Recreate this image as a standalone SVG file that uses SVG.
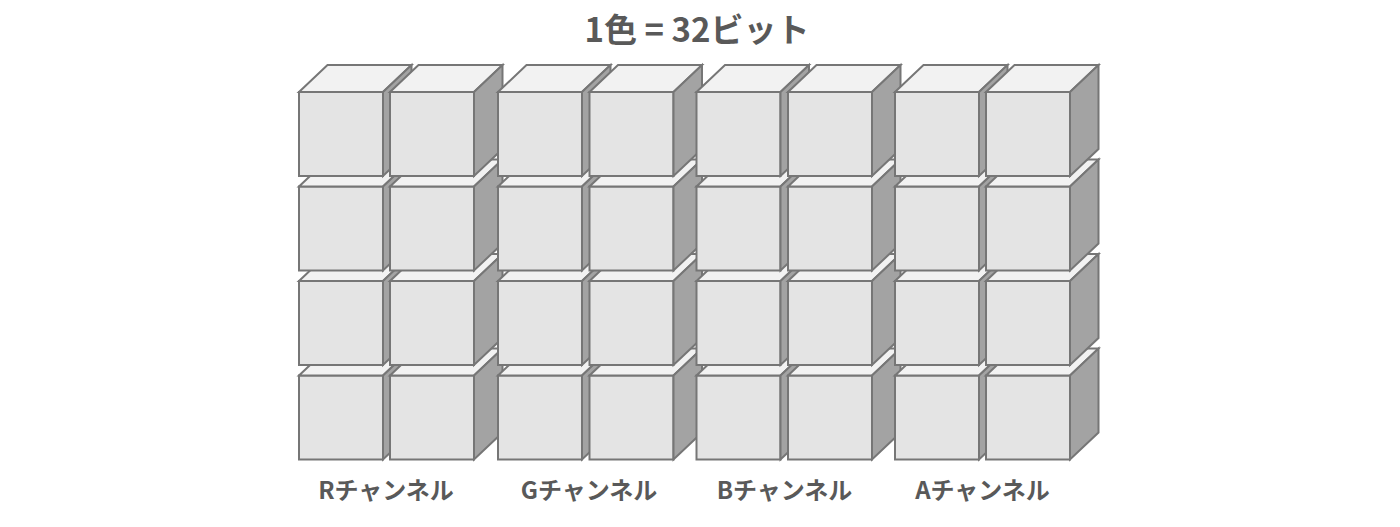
<svg xmlns="http://www.w3.org/2000/svg" xmlns:xlink="http://www.w3.org/1999/xlink" width="1400" height="527" viewBox="0 0 1400 527">
<style>
.front{fill:#e4e4e4;stroke:#767676;stroke-width:2}
.top{fill:#f2f2f2;stroke:#767676;stroke-width:2;stroke-linejoin:miter}
.side{fill:#a3a3a3;stroke:#767676;stroke-width:2;stroke-linejoin:miter}
.title{font-family:"Noto Sans CJK JP","Noto Sans",sans-serif;font-weight:bold;font-size:33px;fill:#595959;text-anchor:middle}
.label{font-family:"Noto Sans CJK JP","Noto Sans",sans-serif;font-weight:bold;font-size:24px;fill:#595959;text-anchor:middle}
</style>
<defs>
<g id="cube">
<rect class="front" x="0" y="0" width="84" height="84"/>
<path class="top" d="M0,0 L28.5,-27 L112.5,-27 L84,0 Z"/>
<path class="side" d="M84,0 L112.5,-27 L112.5,57 L84,84 Z"/>
</g>
</defs>
<rect width="1400" height="527" fill="#ffffff"/>
<text class="title" x="697" y="42">1色 = 32ビット</text>
<g id="cubes">
<g id="row4">
<g id="R1-4"><use xlink:href="#cube" x="299" y="375.5"/></g>
<g id="R2-4"><use xlink:href="#cube" x="390" y="375.5"/></g>
<g id="G1-4"><use xlink:href="#cube" x="498" y="375.5"/></g>
<g id="G2-4"><use xlink:href="#cube" x="589.5" y="375.5"/></g>
<g id="B1-4"><use xlink:href="#cube" x="696.5" y="375.5"/></g>
<g id="B2-4"><use xlink:href="#cube" x="788" y="375.5"/></g>
<g id="A1-4"><use xlink:href="#cube" x="895" y="375.5"/></g>
<g id="A2-4"><use xlink:href="#cube" x="986" y="375.5"/></g>
</g>
<g id="row3">
<g id="R1-3"><use xlink:href="#cube" x="299" y="281"/></g>
<g id="R2-3"><use xlink:href="#cube" x="390" y="281"/></g>
<g id="G1-3"><use xlink:href="#cube" x="498" y="281"/></g>
<g id="G2-3"><use xlink:href="#cube" x="589.5" y="281"/></g>
<g id="B1-3"><use xlink:href="#cube" x="696.5" y="281"/></g>
<g id="B2-3"><use xlink:href="#cube" x="788" y="281"/></g>
<g id="A1-3"><use xlink:href="#cube" x="895" y="281"/></g>
<g id="A2-3"><use xlink:href="#cube" x="986" y="281"/></g>
</g>
<g id="row2">
<g id="R1-2"><use xlink:href="#cube" x="299" y="186.5"/></g>
<g id="R2-2"><use xlink:href="#cube" x="390" y="186.5"/></g>
<g id="G1-2"><use xlink:href="#cube" x="498" y="186.5"/></g>
<g id="G2-2"><use xlink:href="#cube" x="589.5" y="186.5"/></g>
<g id="B1-2"><use xlink:href="#cube" x="696.5" y="186.5"/></g>
<g id="B2-2"><use xlink:href="#cube" x="788" y="186.5"/></g>
<g id="A1-2"><use xlink:href="#cube" x="895" y="186.5"/></g>
<g id="A2-2"><use xlink:href="#cube" x="986" y="186.5"/></g>
</g>
<g id="row1">
<g id="R1-1"><use xlink:href="#cube" x="299" y="92"/></g>
<g id="R2-1"><use xlink:href="#cube" x="390" y="92"/></g>
<g id="G1-1"><use xlink:href="#cube" x="498" y="92"/></g>
<g id="G2-1"><use xlink:href="#cube" x="589.5" y="92"/></g>
<g id="B1-1"><use xlink:href="#cube" x="696.5" y="92"/></g>
<g id="B2-1"><use xlink:href="#cube" x="788" y="92"/></g>
<g id="A1-1"><use xlink:href="#cube" x="895" y="92"/></g>
<g id="A2-1"><use xlink:href="#cube" x="986" y="92"/></g>
</g>
</g>
<g id="labels">
<text class="label" x="386" y="499">Rチャンネル</text>
<text class="label" x="589" y="499">Gチャンネル</text>
<text class="label" x="784.5" y="499">Bチャンネル</text>
<text class="label" x="982.5" y="499">Aチャンネル</text>
</g>
</svg>
